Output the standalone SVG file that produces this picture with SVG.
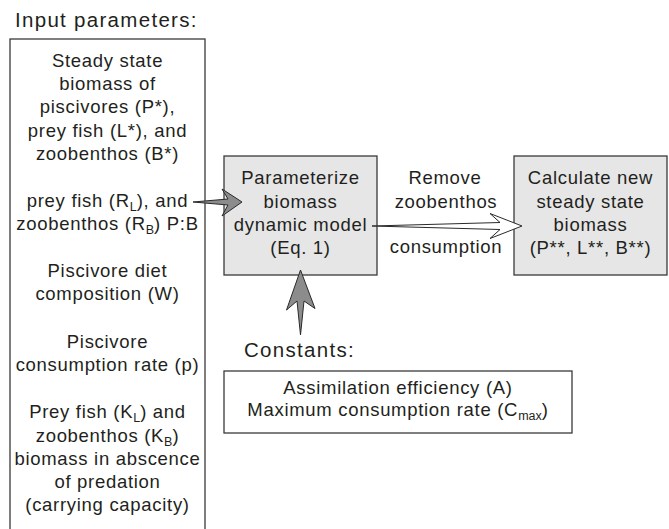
<svg xmlns="http://www.w3.org/2000/svg" width="669" height="529" viewBox="0 0 669 529">
<style>
text{font-family:"Liberation Sans",Arial,sans-serif;fill:#231f20}
.h{font-size:20.5px;letter-spacing:1.3px}
.b{font-size:18.5px;letter-spacing:0.7px;text-anchor:middle}
.box{fill:#fff;stroke:#3a3a3a;stroke-width:1.3}
.gbox{fill:#e6e6e6;stroke:#3a3a3a;stroke-width:1.3}
.garrow{fill:#8c8c8c;stroke:#2a2a2a;stroke-width:1}
.warrow{fill:#fff;stroke:#2a2a2a;stroke-width:1}
.s{font-size:12.5px;letter-spacing:0}
</style>
<rect width="669" height="529" fill="#fff"/>
<g id="input-parameters">
<text class="h" x="15" y="27">Input parameters:</text>
<rect class="box" x="10" y="39" width="195" height="500"/>
<text class="b" x="107.5" y="67">Steady state</text>
<text class="b" x="107.5" y="90">biomass of</text>
<text class="b" x="107.5" y="113">piscivores (P*),</text>
<text class="b" x="107.5" y="137">prey fish (L*), and</text>
<text class="b" x="107.5" y="160">zoobenthos (B*)</text>
<text class="b" x="107.5" y="207">prey fish (R<tspan class="s" dy="4">L</tspan><tspan dy="-4">), and</tspan></text>
<text class="b" x="107.5" y="230">zoobenthos (R<tspan class="s" dy="4">B</tspan><tspan dy="-4">) P:B</tspan></text>
<text class="b" x="107.5" y="277">Piscivore diet</text>
<text class="b" x="107.5" y="300">composition (W)</text>
<text class="b" x="107.5" y="348">Piscivore</text>
<text class="b" x="107.5" y="371">consumption rate (p)</text>
<text class="b" x="107.5" y="418">Prey fish (K<tspan class="s" dy="4">L</tspan><tspan dy="-4">) and</tspan></text>
<text class="b" x="107.5" y="442">zoobenthos (K<tspan class="s" dy="4">B</tspan><tspan dy="-4">)</tspan></text>
<text class="b" x="107.5" y="465">biomass in abscence</text>
<text class="b" x="107.5" y="488">of predation</text>
<text class="b" x="107.5" y="511">(carrying capacity)</text>
</g>
<g id="parameterize">
<rect class="gbox" x="224" y="156" width="153" height="119"/>
<text class="b" x="300.5" y="184">Parameterize</text>
<text class="b" x="300.5" y="208">biomass</text>
<text class="b" x="300.5" y="231">dynamic model</text>
<text class="b" x="300.5" y="254">(Eq. 1)</text>
</g>
<g id="calculate">
<rect class="gbox" x="514" y="156" width="153" height="119"/>
<text class="b" x="590.5" y="184">Calculate new</text>
<text class="b" x="590.5" y="208">steady state</text>
<text class="b" x="590.5" y="231">biomass</text>
<text class="b" x="590.5" y="254">(P**, L**, B**)</text>
</g>
<g id="constants">
<text class="h" x="244" y="357">Constants:</text>
<rect class="box" x="224" y="371" width="348" height="62"/>
<text class="b" x="398" y="394">Assimilation efficiency (A)</text>
<text class="b" x="398" y="416">Maximum consumption rate (C<tspan class="s" dy="4">max</tspan><tspan dy="-4">)</tspan></text>
</g>
<g id="connectors">
<polygon class="garrow" points="193,202 228,199 222,189 242,202 222,216 228,205"/>
<polygon class="garrow" points="300.5,335 297,301 286.5,310 300.5,270 315,308.5 304,301"/>
<polygon class="warrow" points="372,226 500,222.5 490,213.5 522,226 490,238.5 500,229.5"/>
<text class="b" x="445" y="184">Remove</text>
<text class="b" x="446" y="208">zoobenthos</text>
<text class="b" x="446" y="253">consumption</text>
</g>
</svg>
